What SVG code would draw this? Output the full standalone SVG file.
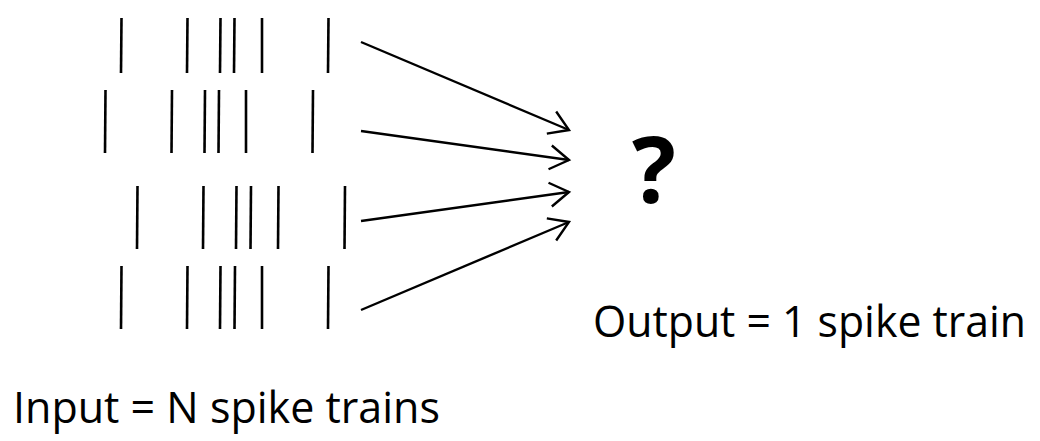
<svg xmlns="http://www.w3.org/2000/svg" width="1040" height="441" viewBox="0 0 1040 441">
<defs>
<style>
.spike{stroke:#000;stroke-width:2.6;fill:none}
.conn{stroke:#000;stroke-width:2.4;fill:none}
.lbl{font-family:"Open Sans","Liberation Sans",sans-serif;font-size:44px;fill:#000}
.q{font-family:"Open Sans","Liberation Sans",sans-serif;font-size:92px;font-weight:bold;fill:#000}
</style>
<marker id="arr" markerWidth="24" markerHeight="30" refX="21" refY="14" orient="auto" markerUnits="userSpaceOnUse">
<path d="M2,2 L21,14 L2,26" fill="none" stroke="#000" stroke-width="2.4"/>
</marker>
</defs>
<rect width="1040" height="441" fill="#fff"/>
<g id="train1">
<line class="spike" x1="121.5" y1="18" x2="121" y2="73"/>
<line class="spike" x1="187.5" y1="18" x2="187" y2="73"/>
<line class="spike" x1="220.5" y1="18" x2="220" y2="73"/>
<line class="spike" x1="234.5" y1="18" x2="234" y2="73"/>
<line class="spike" x1="262" y1="18" x2="262" y2="73"/>
<line class="spike" x1="328.5" y1="18" x2="328" y2="73"/>
</g>
<g id="train2">
<line class="spike" x1="105.5" y1="90" x2="105" y2="153"/>
<line class="spike" x1="172" y1="90" x2="171.5" y2="153"/>
<line class="spike" x1="205" y1="90" x2="204.5" y2="153"/>
<line class="spike" x1="219" y1="90" x2="218.5" y2="153"/>
<line class="spike" x1="246" y1="90" x2="246" y2="153"/>
<line class="spike" x1="313" y1="90" x2="312.5" y2="153"/>
</g>
<g id="train3">
<line class="spike" x1="137.5" y1="186" x2="137" y2="249"/>
<line class="spike" x1="203.5" y1="186" x2="203" y2="249"/>
<line class="spike" x1="236.5" y1="186" x2="236" y2="249"/>
<line class="spike" x1="251" y1="186" x2="250.5" y2="249"/>
<line class="spike" x1="278.5" y1="186" x2="278" y2="249"/>
<line class="spike" x1="345" y1="186" x2="344.5" y2="249"/>
</g>
<g id="train4">
<line class="spike" x1="121.5" y1="266" x2="121" y2="329"/>
<line class="spike" x1="187.5" y1="266" x2="187" y2="329"/>
<line class="spike" x1="220.5" y1="266" x2="220" y2="329"/>
<line class="spike" x1="235" y1="266" x2="234.5" y2="329"/>
<line class="spike" x1="262" y1="266" x2="262" y2="329"/>
<line class="spike" x1="328.5" y1="266" x2="328" y2="329"/>
</g>
<g id="connectors">
<line class="conn" x1="361" y1="42" x2="569" y2="130" marker-end="url(#arr)"/>
<line class="conn" x1="361" y1="131" x2="569" y2="160" marker-end="url(#arr)"/>
<line class="conn" x1="361" y1="221" x2="569" y2="192" marker-end="url(#arr)"/>
<line class="conn" x1="361" y1="310" x2="569" y2="222" marker-end="url(#arr)"/>
</g>
<g id="output">
<text class="q" x="632" y="203">?</text>
<text class="lbl" x="593" y="337" textLength="433" lengthAdjust="spacingAndGlyphs">Output = 1 spike train</text>
</g>
<g id="input">
<text class="lbl" x="13" y="423" textLength="427" lengthAdjust="spacingAndGlyphs">Input = N spike trains</text>
</g>
</svg>
